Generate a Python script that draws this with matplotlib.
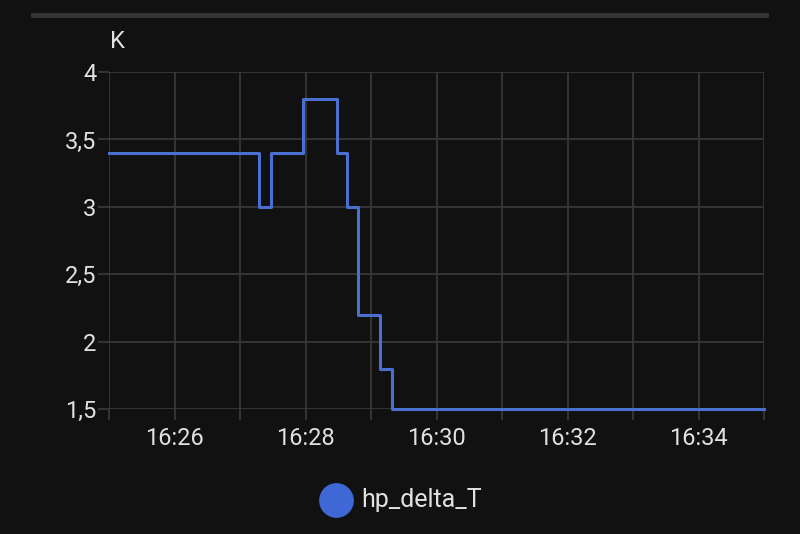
import matplotlib
matplotlib.use("Agg")
import matplotlib.pyplot as plt
import matplotlib.dates as mdates
from matplotlib.ticker import FuncFormatter
import pandas as pd

# step changes of hp_delta_T (K)
times = ["16:25:00", "16:27:17", "16:27:28", "16:27:58", "16:28:29",
         "16:28:38", "16:28:48", "16:29:08", "16:29:19", "16:35:00"]
values = [3.4, 3.0, 3.4, 3.8, 3.4, 3.0, 2.2, 1.8, 1.5, 1.5]
series_name = "hp_delta_T"
unit = "K"

t = pd.to_datetime(["2024-01-01 " + s for s in times])

bg = "#111111"
fg = "#e1e1e1"
gridc = "#3a3a3a"
linec = "#4a6fcf"

plt.rcParams['font.family'] = ['Roboto', 'DejaVu Sans']

fig = plt.figure(figsize=(8, 5.34), dpi=100, facecolor=bg)
ax = fig.add_axes([0.13625, 0.234, 0.81875, 0.631])
ax.set_facecolor(bg)

ax.step(t, values, where="post", color=linec, lw=2.2, clip_on=False)

ax.set_xlim(t[0], t[-1])
ax.set_ylim(1.5, 4)
ax.set_yticks([1.5, 2, 2.5, 3, 3.5, 4])
ax.yaxis.set_major_formatter(FuncFormatter(lambda v, p: ("%g" % v).replace(".", ",")))

ax.xaxis.set_major_locator(mdates.MinuteLocator(byminute=range(26, 36, 2)))
ax.xaxis.set_minor_locator(mdates.MinuteLocator())
ax.xaxis.set_major_formatter(mdates.DateFormatter("%H:%M"))

ax.grid(True, which="both", color=gridc, lw=1.2)
ax.set_axisbelow(True)
for s in ax.spines.values():
    s.set_visible(False)
ax.tick_params(which="both", colors=gridc, length=8, width=1.2, labelcolor=fg, labelsize=17)
ax.tick_params(axis="x", pad=5)
ax.tick_params(axis="y", pad=1, length=8)

fig.text(0.137, 0.9, unit, color=fg, fontsize=17, ha="left", va="bottom")

# top separator bar
fig.add_artist(plt.Line2D([0.041, 0.958], [0.972, 0.972], color="#353535", lw=3.5))

# legend
fig.add_artist(plt.Line2D([0.42], [0.063], marker="o", markersize=24, color="#3f68d6",
                          transform=fig.transFigure, lw=0))
fig.text(0.451, 0.063, series_name, color=fg, fontsize=18, ha="left", va="center")

fig.savefig("out.png", dpi=100, facecolor=bg)
